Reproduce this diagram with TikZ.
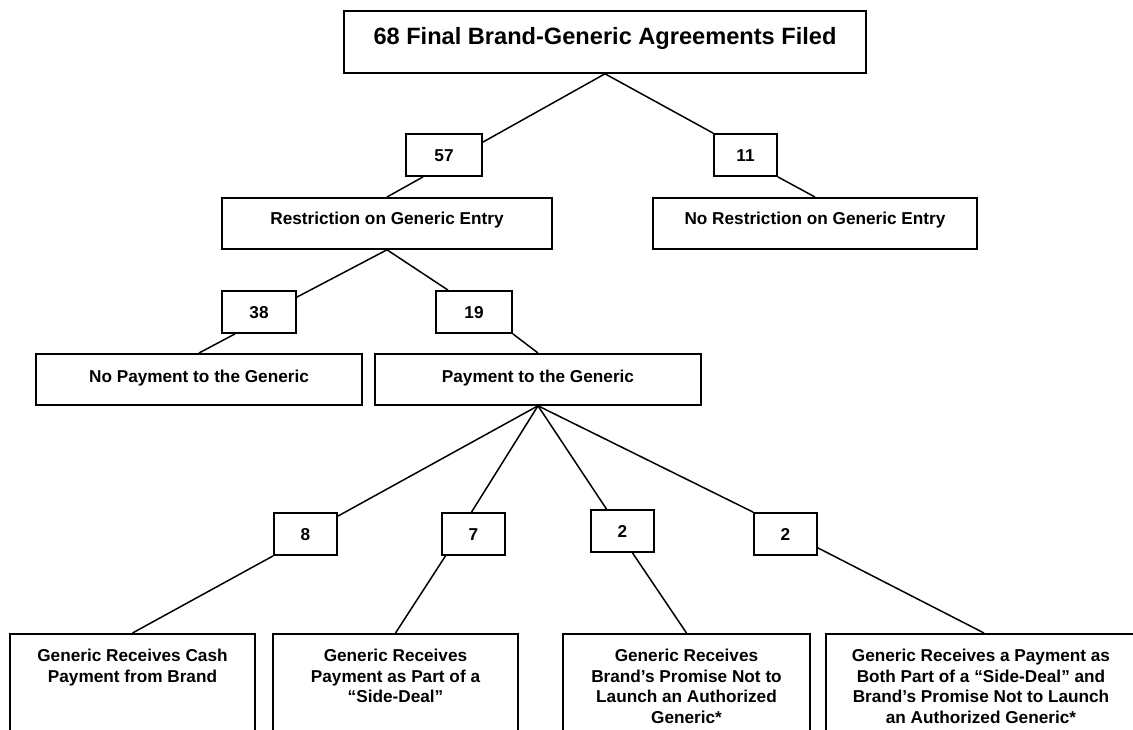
\documentclass[tikz,border=0pt]{standalone}
\usepackage{fontspec}
\setmainfont{Liberation Sans}
\begin{document}
\begin{tikzpicture}[x=1pt,y=-1pt]
\tikzset{
  box/.style={draw, line width=1.8pt, inner xsep=0pt, inner ysep=0pt,
    font=\bfseries\fontsize{17.2}{20.5}\selectfont, align=center},
  numbox/.style={box, minimum height=42pt, text height=12.3pt, text depth=0pt},
  bigbox/.style={box, anchor=north, text height=27pt, text depth=24pt},
  leafbox/.style={box, anchor=north, minimum width=#1, text depth=80pt},
  link/.style={line width=1.5pt},
}
\useasboundingbox (0,0) rectangle (1133,729);
\fill[white] (0,0) rectangle (1133,729);
\clip (0,0) rectangle (1133,729);

% level 0
\node[box, anchor=north, minimum width=522pt, text height=33.5pt, text depth=28.5pt,
  font=\bfseries\fontsize{23.6}{28}\selectfont] (top) at (605,10)
  {68 Final Brand-Generic Agreements Filed};

% level 1
\node[numbox, minimum width=76pt] (n57) at (444,155) {57};
\node[numbox, minimum width=63pt] (n11) at (745.5,155) {11};
\node[bigbox, minimum width=330pt] (restr) at (387,197) {Restriction on Generic Entry};
\node[bigbox, minimum width=324pt] (norestr) at (815,197) {No Restriction on Generic Entry};

% level 2
\node[numbox, minimum width=74pt] (n38) at (259,312) {38};
\node[numbox, minimum width=76pt] (n19) at (474,312) {19};
\node[bigbox, minimum width=326pt, text height=29pt, text depth=22pt] (nopay) at (199,353) {No Payment to the Generic};
\node[bigbox, minimum width=326pt, text height=29pt, text depth=22pt] (pay) at (538,353) {Payment to the Generic};

% level 3
\node[numbox, minimum width=63pt] (n8) at (305.5,534) {8};
\node[numbox, minimum width=63pt] (n7) at (473.5,534) {7};
\node[numbox, minimum width=63pt] (n2a) at (622.5,531) {2};
\node[numbox, minimum width=63pt] (n2b) at (785.5,534) {2};

\node[leafbox=245pt, text height=48.5pt] (b1) at (132.5,633) {Generic Receives Cash\\Payment from Brand};
\node[leafbox=245pt, text height=69pt] (b2) at (395.5,633) {Generic Receives\\Payment as Part of a\\“Side-Deal”};
\node[leafbox=247pt, text height=89.5pt] (b3) at (686.5,633) {Generic Receives\\Brand’s Promise Not to\\Launch an Authorized\\Generic*};
\node[leafbox=310pt, text height=89.5pt] (b4) at (981,633) {Generic Receives a Payment as\\Both Part of a “Side-Deal” and\\Brand’s Promise Not to Launch\\an Authorized Generic*};

% connectors
\draw[link] (top.south) -- ([yshift=-9pt]n57.north east);
\draw[link] ([xshift=-21pt]n57.south) -- (restr.north);
\draw[link] (top.south) -- (n11.north west);
\draw[link] (n11.south east) -- (norestr.north);

\draw[link] (restr.south) -- ([yshift=-7pt]n38.north east);
\draw[link] ([xshift=-24pt]n38.south) -- (nopay.north);
\draw[link] (restr.south) -- ([xshift=-26pt]n19.north);
\draw[link] (n19.south east) -- (pay.north);

\draw[link] (pay.south) -- ([yshift=-4pt]n8.north east);
\draw[link] (pay.south) -- ([xshift=-2pt]n7.north);
\draw[link] (pay.south) -- ([xshift=-16pt]n2a.north);
\draw[link] (pay.south) -- (n2b.north west);

\draw[link] (n8.south west) -- (b1.north);
\draw[link] ([xshift=-28pt]n7.south) -- (b2.north);
\draw[link] ([xshift=10pt]n2a.south) -- (b3.north);
\draw[link] ([yshift=8pt]n2b.south east) -- ([xshift=3pt]b4.north);
\end{tikzpicture}
\end{document}
